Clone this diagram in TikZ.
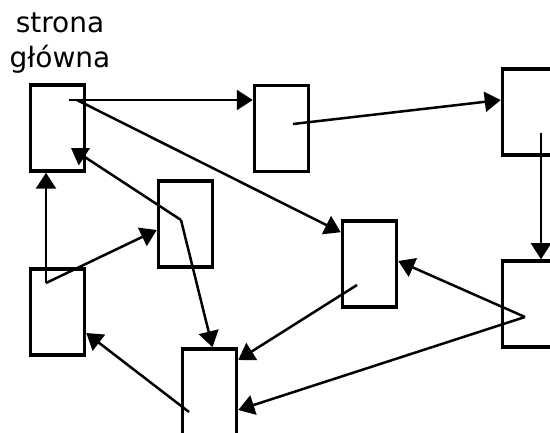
\documentclass[tikz,border=0pt]{standalone}
\usepackage{fontspec}
\setmainfont{DejaVu Sans}
\usetikzlibrary{arrows.meta,calc}
\tikzset{
  page/.style={draw, rectangle, line width=3.5pt, minimum width=54pt, minimum height=86pt, inner sep=0pt},
  link/.style={line width=2.5pt, -{Triangle[length=16pt,width=20pt]}},
}
\begin{document}
\begin{tikzpicture}[x=1pt,y=-1pt]
\useasboundingbox (0,0) rectangle (550,433);
\clip (0,0) rectangle (550,433);

% title
\node[align=center, inner sep=0pt, anchor=base, font=\fontsize{28}{35}\selectfont] (title) at (60,68) {strona\\główna};

% pages
\node[page] (A) at (57.5,128) {};
\node[page] (B) at (281.5,128.5) {};
\node[page] (C) at (529.5,112) {};
\node[page] (D) at (185.5,224) {};
\node[page] (E) at (57.5,312) {};
\node[page] (F) at (209.5,392) {};
\node[page] (G) at (369.5,264) {};
\node[page] (H) at (529.5,304) {};

% link start points inside pages
\coordinate (a1) at (69,100);
\coordinate (a2) at (77,100);
\coordinate (a3) at (71,148);
\coordinate (b1) at (293,124);
\coordinate (c1) at (541,133);
\coordinate (d1) at (181,220);
\coordinate (e1) at (46,283);
\coordinate (f1) at (189,412);
\coordinate (g1) at (357,285);
\coordinate (h1) at (525,317);

% links
\draw[link] (a1) -- (a1 -| B.west);
\draw[link] (a2) -- ($(G.north west)+(0,13)$);
\draw[link] (b1) -- ($(C.west)+(0,-12)$);
\draw[link] (c1) -- (c1 |- H.north);
\draw[link] (h1) -- ($(G.east)+(0,-3)$);
\draw[link] (h1) -- ($(F.east)+(0,18)$);
\draw[link] (g1) -- ($(F.east)+(0,-32)$);
\draw[link] (f1) -- ($(E.east)+(0,21)$);
\draw[link] (e1) -- (e1 |- A.south);
\draw[link] (e1) -- ($(D.west)+(0,6)$);
\draw[link] (d1) -- (a3);
\draw[link] (d1) -- ($(F.north)+(3,0)$);
\end{tikzpicture}
\end{document}
